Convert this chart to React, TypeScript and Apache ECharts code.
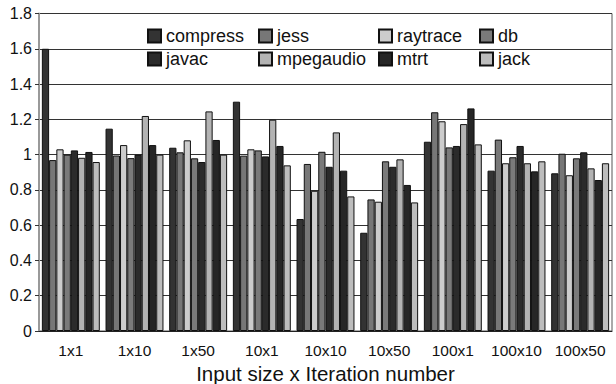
import React, { useEffect, useRef } from "react";
import * as echarts from "echarts";

const categories = ["1x1", "1x10", "1x50", "10x1", "10x10", "10x50", "100x1", "100x10", "100x50"];

const compress = [1.6, 1.147, 1.039, 1.3, 0.635, 0.557, 1.073, 0.909, 0.894];
const jess = [0.969, 0.995, 1.013, 0.994, 0.947, 0.746, 1.24, 1.085, 1.005];
const raytrace = [1.03, 1.054, 1.081, 1.03, 0.795, 0.733, 1.189, 0.951, 0.883];
const db = [1.0, 0.98, 0.979, 1.024, 1.016, 0.962, 1.041, 0.985, 0.979];
const javac = [1.024, 1.0, 0.958, 0.99, 0.931, 0.931, 1.049, 1.049, 1.013];
const mpegaudio = [0.982, 1.219, 1.245, 1.198, 1.126, 0.973, 1.173, 0.951, 0.922];
const mtrt = [1.015, 1.054, 1.083, 1.049, 0.909, 0.828, 1.262, 0.905, 0.856];
const jack = [0.958, 1.0, 1.0, 0.939, 0.763, 0.729, 1.058, 0.962, 0.951];

const seriesNames = ["compress", "jess", "raytrace", "db", "javac", "mpegaudio", "mtrt", "jack"];
const seriesValues = [compress, jess, raytrace, db, javac, mpegaudio, mtrt, jack];
const seriesColors = ["#333333", "#777777", "#cccccc", "#7a7a7a", "#2b2b2b", "#b3b3b3", "#262626", "#bdbdbd"];

// legend laid out as a 4x2 table: column x positions and row y positions
const legendCols = [147, 258, 378, 479];
const legendRows = [27, 50];

const FONT = "'Liberation Sans', Arial, sans-serif";

export default function App() {
  const ref = useRef<HTMLDivElement>(null);

  useEffect(() => {
    if (!ref.current) return;
    const chart = echarts.init(ref.current, undefined, { renderer: "svg" });

    const legends = seriesNames.map((name, i) => ({
      data: [name],
      left: legendCols[i % 4],
      top: legendRows[Math.floor(i / 4)],
      icon: "rect",
      itemWidth: 13,
      itemHeight: 13,
      itemGap: 6,
      padding: 0,
      selectedMode: false,
      textStyle: { fontFamily: FONT, fontSize: 18, color: "#111" },
    }));

    chart.setOption({
      animation: false,
      backgroundColor: "#ffffff",
      grid: {
        left: 39,
        right: 4,
        top: 13.5,
        bottom: 53,
        outerBoundsMode: "none",
        containLabel: false,
        show: true,
        borderColor: "#555",
        borderWidth: 1,
      },
      legend: legends,
      xAxis: {
        type: "category",
        data: categories,
        name: "Input size x Iteration number",
        nameLocation: "middle",
        nameGap: 30,
        nameTextStyle: { fontFamily: FONT, fontSize: 20.5, color: "#111" },
        axisLine: { lineStyle: { color: "#222", width: 1 } },
        axisTick: { alignWithLabel: true, length: 5, lineStyle: { color: "#222" } },
        axisLabel: { interval: 0, fontFamily: FONT, fontSize: 15.5, color: "#111", margin: 11 },
      },
      yAxis: {
        type: "value",
        min: 0,
        max: 1.8,
        interval: 0.2,
        axisLine: { show: true, lineStyle: { color: "#999", width: 2 } },
        axisTick: { show: true, length: 4, lineStyle: { color: "#333" } },
        axisLabel: {
          fontFamily: FONT,
          fontSize: 16,
          color: "#111",
          margin: 7,
          formatter: (v: number) => String(Math.round(v * 10) / 10),
        },
        splitLine: { lineStyle: { color: "#333", width: 1 } },
      },
      series: seriesNames.map((name, i) => ({
        name,
        type: "bar",
        data: seriesValues[i],
        barGap: "0%",
        barCategoryGap: "9%",
        itemStyle: { color: seriesColors[i], borderColor: "#111", borderWidth: 1 },
      })),
    });

    return () => chart.dispose();
  }, []);

  return <div ref={ref} style={{ width: 616, height: 384, position: "absolute", left: 0, top: 0 }} />;
}
